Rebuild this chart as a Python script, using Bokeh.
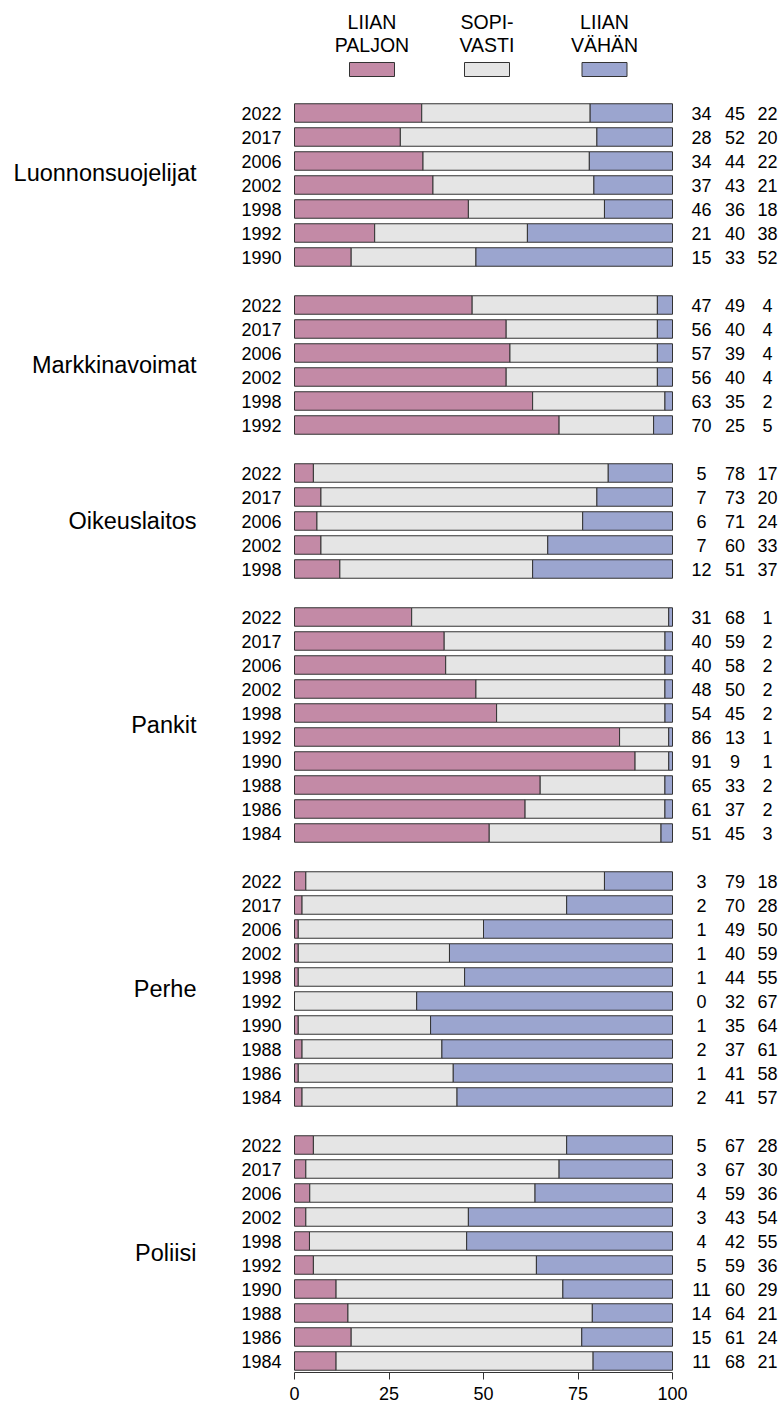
from bokeh.plotting import figure
from bokeh.models import Range1d, LinearAxis, FixedTicker, ColumnDataSource
from bokeh.core.properties import value
from bokeh.embed import file_html
from bokeh.resources import INLINE

# ---------------- data ----------------
groups = ["Luonnonsuojelijat", "Markkinavoimat", "Oikeuslaitos", "Pankit", "Perhe", "Poliisi"]

years_luonnon = [2022, 2017, 2006, 2002, 1998, 1992, 1990]
paljon_luonnon = [34, 28, 34, 37, 46, 21, 15]
sopiva_luonnon = [45, 52, 44, 43, 36, 40, 33]
vahan_luonnon = [22, 20, 22, 21, 18, 38, 52]

years_markkina = [2022, 2017, 2006, 2002, 1998, 1992]
paljon_markkina = [47, 56, 57, 56, 63, 70]
sopiva_markkina = [49, 40, 39, 40, 35, 25]
vahan_markkina = [4, 4, 4, 4, 2, 5]

years_oikeus = [2022, 2017, 2006, 2002, 1998]
paljon_oikeus = [5, 7, 6, 7, 12]
sopiva_oikeus = [78, 73, 71, 60, 51]
vahan_oikeus = [17, 20, 24, 33, 37]

years_pankit = [2022, 2017, 2006, 2002, 1998, 1992, 1990, 1988, 1986, 1984]
paljon_pankit = [31, 40, 40, 48, 54, 86, 91, 65, 61, 51]
sopiva_pankit = [68, 59, 58, 50, 45, 13, 9, 33, 37, 45]
vahan_pankit = [1, 2, 2, 2, 2, 1, 1, 2, 2, 3]

years_perhe = [2022, 2017, 2006, 2002, 1998, 1992, 1990, 1988, 1986, 1984]
paljon_perhe = [3, 2, 1, 1, 1, 0, 1, 2, 1, 2]
sopiva_perhe = [79, 70, 49, 40, 44, 32, 35, 37, 41, 41]
vahan_perhe = [18, 28, 50, 59, 55, 67, 64, 61, 58, 57]

years_poliisi = [2022, 2017, 2006, 2002, 1998, 1992, 1990, 1988, 1986, 1984]
paljon_poliisi = [5, 3, 4, 3, 4, 5, 11, 14, 15, 11]
sopiva_poliisi = [67, 67, 59, 43, 42, 59, 60, 64, 61, 68]
vahan_poliisi = [28, 30, 36, 54, 55, 36, 29, 21, 24, 21]

legend_labels = ["LIIAN\nPALJON", "SOPI-\nVASTI", "LIIAN\nVÄHÄN"]
x_ticks = [0, 25, 50, 75, 100]

group_data = [
    (years_luonnon, paljon_luonnon, sopiva_luonnon, vahan_luonnon),
    (years_markkina, paljon_markkina, sopiva_markkina, vahan_markkina),
    (years_oikeus, paljon_oikeus, sopiva_oikeus, vahan_oikeus),
    (years_pankit, paljon_pankit, sopiva_pankit, vahan_pankit),
    (years_perhe, paljon_perhe, sopiva_perhe, vahan_perhe),
    (years_poliisi, paljon_poliisi, sopiva_poliisi, vahan_poliisi),
]

# ---------------- style / layout ----------------
colors = ["#C38AA6", "#E5E5E5", "#9BA5CF"]
outline = "#333333"
TXT = "#000000"
FONT = "Liberation Sans"
LEGEND_FONT = "Liberation Sans"

W, H = 784, 1408
BOTTOM = 36
FRAME_H = H - BOTTOM
PX0, PX_UNIT = 294, 3.78          # pixel of x=0, px per unit
ROW0, PITCH = 112.5, 24.0         # pixel of first row, row pitch
label_offset = [-0.5, 0, 0, 0, 0, 0]   # group label shift (rows)

x_start = -PX0 / PX_UNIT
x_end = x_start + W / PX_UNIT
y_top = (0 - ROW0) / PITCH
y_bot = (FRAME_H - ROW0) / PITCH

p = figure(width=W, height=H, x_range=Range1d(x_start, x_end), y_range=Range1d(y_bot, y_top),
           output_backend="svg", toolbar_location=None,
           x_axis_location=None, y_axis_location=None,
           min_border_left=0, min_border_right=0, min_border_top=0, min_border_bottom=BOTTOM)
p.outline_line_color = None
p.xgrid.visible = False
p.ygrid.visible = False
p.background_fill_color = "white"

# build rows
rows_y, rows_year, segs = [], [], {k: {"left": [], "right": []} for k in range(3)}
val_text = {k: [] for k in range(3)}
label_y = []
slot = 0
for gi, (yrs, a, b, c) in enumerate(group_data):
    ys = []
    for i, yr in enumerate(yrs):
        tot = a[i] + b[i] + c[i]
        bounds = [0, a[i] / tot * 100, (a[i] + b[i]) / tot * 100, 100]
        for k in range(3):
            segs[k]["left"].append(bounds[k])
            segs[k]["right"].append(bounds[k + 1])
        val_text[0].append(str(a[i]))
        val_text[1].append(str(b[i]))
        val_text[2].append(str(c[i]))
        rows_y.append(slot)
        rows_year.append(str(yr))
        ys.append(slot)
        slot += 1
    label_y.append(sum(ys) / len(ys) + label_offset[gi])
    slot += 1

BAR_H = 0.77
for k in range(3):
    src = ColumnDataSource(dict(y=rows_y, left=segs[k]["left"], right=segs[k]["right"]))
    p.hbar(y="y", left="left", right="right", height=BAR_H, source=src,
           fill_color=colors[k], line_color=outline, line_width=1)

# year labels
p.text(x=[-13 / PX_UNIT] * len(rows_y), y=rows_y, text=rows_year,
       text_font=value(FONT), text_font_size=value("18px"), text_align="right",
       text_baseline="middle", text_color=TXT)

# value columns
val_px = [701, 734.5, 767]
for k in range(3):
    xv = (val_px[k] - PX0) / PX_UNIT
    p.text(x=[xv] * len(rows_y), y=rows_y, text=val_text[k],
           text_font=value(FONT), text_font_size=value("18px"), text_align="center",
           text_baseline="middle", text_color=TXT)

# group labels
p.text(x=[(196 - PX0) / PX_UNIT] * len(groups), y=label_y, text=groups,
       text_font=value(FONT), text_font_size=value("23.5px"), text_align="right",
       text_baseline="middle", text_color=TXT)

# legend
leg_px = [371.5, 486.5, 604]
leg_x = [(v - PX0) / PX_UNIT for v in leg_px]
line1 = [s.split("\n")[0] for s in legend_labels]
line2 = [s.split("\n")[1] for s in legend_labels]
p.text(x=leg_x, y=[(21.5 - ROW0) / PITCH] * 3, text=line1,
       text_font=value(LEGEND_FONT), text_font_size=value("19.5px"), text_align="center",
       text_baseline="middle", text_color=TXT)
p.text(x=leg_x, y=[(44 - ROW0) / PITCH] * 3, text=line2,
       text_font=value(LEGEND_FONT), text_font_size=value("19.5px"), text_align="center",
       text_baseline="middle", text_color=TXT)
p.rect(x=leg_x, y=[(69 - ROW0) / PITCH] * 3, width=45 / PX_UNIT, height=14 / PITCH,
       fill_color=colors, line_color=outline, line_width=1)

# x axis
ax = LinearAxis(ticker=FixedTicker(ticks=x_ticks), bounds=(0, 100))
ax.major_tick_in = 0
ax.major_tick_out = 7
ax.minor_tick_in = 0
ax.minor_tick_out = 0
ax.axis_line_color = "#333333"
ax.major_tick_line_color = "#333333"
ax.major_label_text_font = FONT
ax.major_label_text_font_size = "18px"
ax.major_label_text_color = TXT
ax.major_label_standoff = 7
p.add_layout(ax, "below")

open("out.html", "w").write(file_html(p, INLINE))
